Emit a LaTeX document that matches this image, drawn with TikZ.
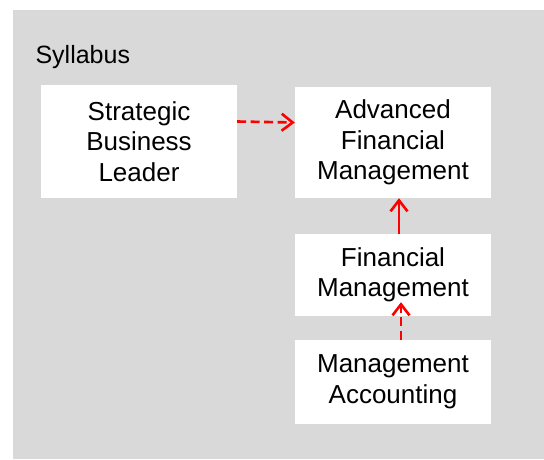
\documentclass[tikz,border=0pt]{standalone}
\usepackage{fontspec}
\setmainfont{Liberation Sans}
\usepackage{tikz}
\usetikzlibrary{shapes,
                arrows.meta,
                calc,
                positioning}
\definecolor{panelgray}{HTML}{D9D9D9}
\tikzstyle{course} = [rectangle, fill=white, align=center, inner sep=0pt, font=\fontsize{26}{30.5}\selectfont]
\tikzstyle{arrow} = [red, line width=2.6pt, -{Straight Barb[length=11pt, width=17pt, line width=2.6pt]}]
\tikzstyle{dasharrow} = [arrow, dash pattern=on 9pt off 4.5pt]

\begin{document}
\begin{tikzpicture}[x=1pt, y=1pt]
\useasboundingbox (0,0) rectangle (544,-460);
\fill[panelgray] (13,-10) rectangle (544,-459);
\node[anchor=base west, font=\fontsize{25}{30}\selectfont] (title) at (32,-64) {Syllabus};
\node[course, minimum width=196pt, minimum height=113pt] (sbl) at (139,-141.5) {Strategic\\Business\\Leader};
\node[course, minimum width=196pt, minimum height=111pt] (afm) at (393,-142.5) {Advanced\\Financial\\Management};
\node[course, minimum width=196pt, minimum height=82pt] (fm) at (393,-275) {Financial\\Management};
\node[course, minimum width=196pt, minimum height=84pt] (ma) at (393,-382) {Management\\Accounting};
\draw[dasharrow] ([yshift=20pt]sbl.east) -- ([yshift=20pt]afm.west);
\draw[arrow] ([xshift=6pt]fm.north) -- ([xshift=6pt]afm.south);
\draw[dasharrow] ([xshift=8pt]ma.north) -- ([xshift=8pt,yshift=14pt]fm.south);
\end{tikzpicture}
\end{document}
